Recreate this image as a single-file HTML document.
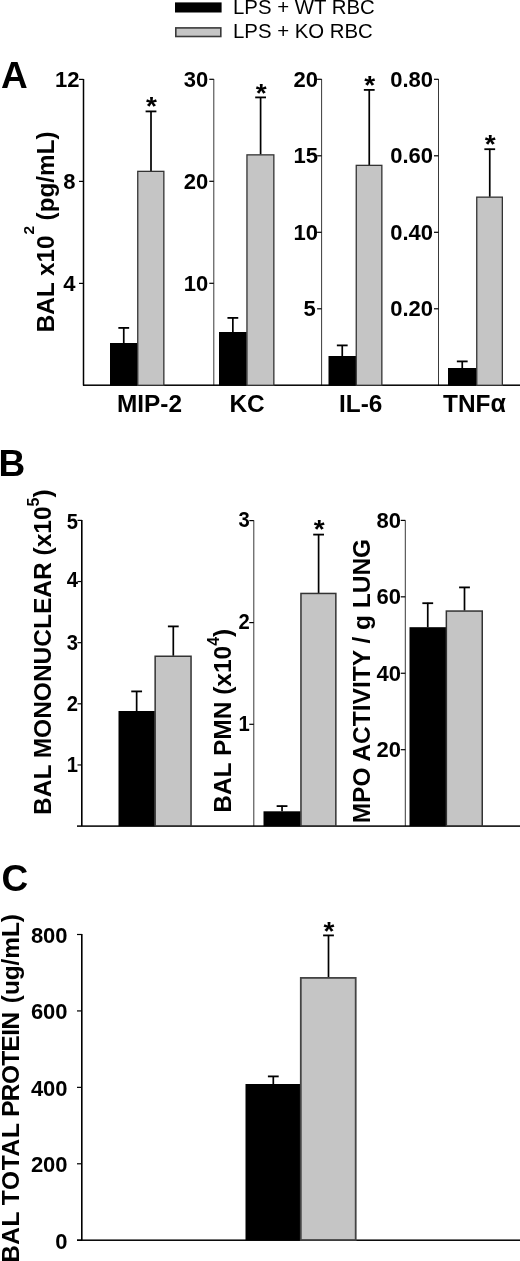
<!DOCTYPE html>
<html><head><meta charset="utf-8"><title>Figure</title>
<style>
html,body{margin:0;padding:0;background:#fff}
svg{display:block}
.r{font-family:"Liberation Sans",Arial,sans-serif;fill:#000}
.b{font-family:"Liberation Sans",Arial,sans-serif;font-weight:bold;fill:#000}
</style></head><body>
<svg width="520" height="1261" viewBox="0 0 520 1261">
<rect width="520" height="1261" fill="#fff"/>
<rect x="175" y="2.4" width="46.6" height="10.1" fill="#000"/>
<rect x="175.8" y="27.9" width="45" height="8.6" fill="#c5c5c5" stroke="#3a3a3a" stroke-width="1.6"/>
<text transform="translate(233,14.2) scale(1.03,1)" font-size="19.8" text-anchor="start" class="r">LPS + WT RBC</text>
<text transform="translate(233,37.9) scale(1.03,1)" font-size="19.8" text-anchor="start" class="r">LPS + KO RBC</text>
<text transform="translate(1,87.5) scale(1.0,1)" font-size="37" text-anchor="start" class="b">A</text>
<rect x="82.75" y="79" width="1.5" height="306.5" fill="#000"/>
<rect x="79.0" y="78.80" width="4.5" height="1.2" fill="#000"/>
<text transform="translate(79.5,86.7) scale(1.0,1)" font-size="22" text-anchor="end" class="b">12</text>
<rect x="79.0" y="180.80" width="4.5" height="1.2" fill="#000"/>
<text transform="translate(75.5,188.7) scale(1.0,1)" font-size="22" text-anchor="end" class="b">8</text>
<rect x="79.0" y="282.80" width="4.5" height="1.2" fill="#000"/>
<text transform="translate(75.5,290.7) scale(1.0,1)" font-size="22" text-anchor="end" class="b">4</text>
<rect x="213.30" y="79" width="1" height="306.5" fill="#3a3a3a"/>
<rect x="209.3" y="78.70" width="4.5" height="1.2" fill="#000"/>
<text transform="translate(208.3,86.6) scale(1.0,1)" font-size="22" text-anchor="end" class="b">30</text>
<rect x="209.3" y="180.70" width="4.5" height="1.2" fill="#000"/>
<text transform="translate(208.3,188.6) scale(1.0,1)" font-size="22" text-anchor="end" class="b">20</text>
<rect x="209.3" y="282.70" width="4.5" height="1.2" fill="#000"/>
<text transform="translate(208.3,290.6) scale(1.0,1)" font-size="22" text-anchor="end" class="b">10</text>
<rect x="321.10" y="79" width="1" height="306.5" fill="#3a3a3a"/>
<rect x="317.1" y="78.70" width="4.5" height="1.2" fill="#000"/>
<text transform="translate(317.9,86.6) scale(1.0,1)" font-size="22" text-anchor="end" class="b">20</text>
<rect x="317.1" y="155.20" width="4.5" height="1.2" fill="#000"/>
<text transform="translate(317.9,163.1) scale(1.0,1)" font-size="22" text-anchor="end" class="b">15</text>
<rect x="317.1" y="231.70" width="4.5" height="1.2" fill="#000"/>
<text transform="translate(317.9,239.6) scale(1.0,1)" font-size="22" text-anchor="end" class="b">10</text>
<rect x="317.1" y="308.20" width="4.5" height="1.2" fill="#000"/>
<text transform="translate(315.7,316.1) scale(1.0,1)" font-size="22" text-anchor="end" class="b">5</text>
<rect x="438.00" y="79" width="1" height="306.5" fill="#3a3a3a"/>
<rect x="434.0" y="78.70" width="4.5" height="1.2" fill="#000"/>
<text transform="translate(433.0,86.6) scale(1.0,1)" font-size="22" text-anchor="end" class="b">0.80</text>
<rect x="434.0" y="155.20" width="4.5" height="1.2" fill="#000"/>
<text transform="translate(433.0,163.1) scale(1.0,1)" font-size="22" text-anchor="end" class="b">0.60</text>
<rect x="434.0" y="231.70" width="4.5" height="1.2" fill="#000"/>
<text transform="translate(433.0,239.6) scale(1.0,1)" font-size="22" text-anchor="end" class="b">0.40</text>
<rect x="434.0" y="308.20" width="4.5" height="1.2" fill="#000"/>
<text transform="translate(433.0,316.1) scale(1.0,1)" font-size="22" text-anchor="end" class="b">0.20</text>
<rect x="83" y="384.45" width="437" height="1.5" fill="#000"/>
<rect x="122.90" y="327.5" width="1.7" height="15.5" fill="#000"/>
<rect x="118.35" y="327.00" width="10.8" height="1.8" fill="#000"/>
<rect x="150.15" y="111" width="1.7" height="60" fill="#000"/>
<rect x="145.6" y="110.50" width="10.8" height="1.8" fill="#000"/>
<rect x="110" y="343" width="27.5" height="42.5" fill="#000"/>
<rect x="137.75" y="171.35" width="26.10" height="213.95" fill="#c5c5c5" stroke="#333" stroke-width="1.3"/>
<text transform="translate(151.5,115.0) scale(1.06,1)" font-size="26.5" text-anchor="middle" class="b">*</text>
<rect x="232.00" y="317.5" width="1.7" height="14.5" fill="#000"/>
<rect x="227.45" y="317.00" width="10.8" height="1.8" fill="#000"/>
<rect x="259.75" y="97" width="1.7" height="57.5" fill="#000"/>
<rect x="255.2" y="96.50" width="10.8" height="1.8" fill="#000"/>
<rect x="219" y="332" width="27.7" height="53.5" fill="#000"/>
<rect x="246.95" y="154.85" width="26.90" height="230.45" fill="#c5c5c5" stroke="#333" stroke-width="1.3"/>
<text transform="translate(261.1,102.3) scale(1.06,1)" font-size="26.5" text-anchor="middle" class="b">*</text>
<rect x="341.40" y="345" width="1.7" height="11" fill="#000"/>
<rect x="336.85" y="344.50" width="10.8" height="1.8" fill="#000"/>
<rect x="368.40" y="89.5" width="1.7" height="75.5" fill="#000"/>
<rect x="363.85" y="89.00" width="10.8" height="1.8" fill="#000"/>
<rect x="328.5" y="356" width="27.5" height="29.5" fill="#000"/>
<rect x="356.25" y="165.35" width="25.60" height="219.95" fill="#c5c5c5" stroke="#333" stroke-width="1.3"/>
<text transform="translate(369.75,93.8) scale(1.06,1)" font-size="26.5" text-anchor="middle" class="b">*</text>
<rect x="461.40" y="361" width="1.7" height="7" fill="#000"/>
<rect x="456.85" y="360.50" width="10.8" height="1.8" fill="#000"/>
<rect x="488.90" y="148.8" width="1.7" height="48.0" fill="#000"/>
<rect x="484.35" y="148.30" width="10.8" height="1.8" fill="#000"/>
<rect x="448" y="368" width="28.5" height="17.5" fill="#000"/>
<rect x="476.75" y="197.15" width="25.60" height="188.15" fill="#c5c5c5" stroke="#333" stroke-width="1.3"/>
<text transform="translate(490.25,152.8) scale(1.06,1)" font-size="26.5" text-anchor="middle" class="b">*</text>
<text transform="translate(117,412) scale(1.0,1)" font-size="24.4" text-anchor="start" class="b">MIP-2</text>
<text transform="translate(229.5,412) scale(1.0,1)" font-size="24.4" text-anchor="start" class="b">KC</text>
<text transform="translate(339,412) scale(1.0,1)" font-size="24.4" text-anchor="start" class="b">IL-6</text>
<text transform="translate(443,412) scale(1.0,1)" font-size="24.4" text-anchor="start" class="b">TNF<tspan class="r" font-size="25">α</tspan></text>
<text transform="translate(54.3,332.2) scale(1.0,1) rotate(-90)" font-size="24.3" class="b">BAL x10<tspan dx="1" dy="-20" font-size="15.5">2</tspan><tspan dy="20" dx="-1.4"> (pg/mL)</tspan></text>
<text transform="translate(-1.5,476.3) scale(1.0,1)" font-size="37" text-anchor="start" class="b">B</text>
<rect x="81.00" y="520" width="1.6" height="306.1" fill="#000"/>
<rect x="77.5" y="519.80" width="4.5" height="1.2" fill="#000"/>
<text transform="translate(78.0,528.7) scale(0.92,1)" font-size="22" text-anchor="end" class="b">5</text>
<rect x="77.5" y="580.94" width="4.5" height="1.2" fill="#000"/>
<text transform="translate(78.0,587.34) scale(0.92,1)" font-size="22" text-anchor="end" class="b">4</text>
<rect x="77.5" y="642.08" width="4.5" height="1.2" fill="#000"/>
<text transform="translate(78.0,649.78) scale(0.92,1)" font-size="22" text-anchor="end" class="b">3</text>
<rect x="77.5" y="703.22" width="4.5" height="1.2" fill="#000"/>
<text transform="translate(78.0,710.82) scale(0.92,1)" font-size="22" text-anchor="end" class="b">2</text>
<rect x="77.5" y="764.36" width="4.5" height="1.2" fill="#000"/>
<text transform="translate(78.0,771.76) scale(0.92,1)" font-size="22" text-anchor="end" class="b">1</text>
<rect x="253.30" y="520.3" width="1" height="305.8" fill="#3a3a3a"/>
<rect x="249.3" y="520.00" width="4.5" height="1.2" fill="#000"/>
<text transform="translate(249.8,527.1) scale(0.92,1)" font-size="22" text-anchor="end" class="b">3</text>
<rect x="249.3" y="622.00" width="4.5" height="1.2" fill="#000"/>
<text transform="translate(249.8,629.1) scale(0.92,1)" font-size="22" text-anchor="end" class="b">2</text>
<rect x="249.3" y="723.70" width="4.5" height="1.2" fill="#000"/>
<text transform="translate(249.8,730.8) scale(0.92,1)" font-size="22" text-anchor="end" class="b">1</text>
<rect x="404.80" y="520.3" width="1" height="305.8" fill="#3a3a3a"/>
<rect x="400.8" y="519.80" width="4.5" height="1.2" fill="#000"/>
<text transform="translate(400.9,527.7) scale(1.0,1)" font-size="22" text-anchor="end" class="b">80</text>
<rect x="400.8" y="596.23" width="4.5" height="1.2" fill="#000"/>
<text transform="translate(400.9,604.13) scale(1.0,1)" font-size="22" text-anchor="end" class="b">60</text>
<rect x="400.8" y="672.66" width="4.5" height="1.2" fill="#000"/>
<text transform="translate(400.9,680.56) scale(1.0,1)" font-size="22" text-anchor="end" class="b">40</text>
<rect x="400.8" y="749.09" width="4.5" height="1.2" fill="#000"/>
<text transform="translate(400.9,756.99) scale(1.0,1)" font-size="22" text-anchor="end" class="b">20</text>
<rect x="77" y="825.35" width="443" height="1.5" fill="#000"/>
<rect x="135.80" y="691" width="1.7" height="20" fill="#000"/>
<rect x="131.25" y="690.50" width="10.8" height="1.8" fill="#000"/>
<rect x="172.45" y="626" width="1.7" height="29.8" fill="#000"/>
<rect x="167.9" y="625.50" width="10.8" height="1.8" fill="#000"/>
<rect x="118.5" y="711" width="36.3" height="115.1" fill="#000"/>
<rect x="155.15" y="656.25" width="35.90" height="169.65" fill="#c5c5c5" stroke="#333" stroke-width="1.5"/>
<rect x="281.20" y="805.7" width="1.7" height="5.6" fill="#000"/>
<rect x="276.65" y="805.20" width="10.8" height="1.8" fill="#000"/>
<rect x="317.75" y="534.2" width="1.7" height="58.8" fill="#000"/>
<rect x="313.2" y="533.70" width="10.8" height="1.8" fill="#000"/>
<rect x="263.5" y="811.3" width="37.1" height="14.8" fill="#000"/>
<rect x="300.95" y="593.45" width="34.90" height="232.45" fill="#c5c5c5" stroke="#333" stroke-width="1.5"/>
<text transform="translate(319.1,538.1) scale(1.06,1)" font-size="26.5" text-anchor="middle" class="b">*</text>
<rect x="426.90" y="602.8" width="1.7" height="24.4" fill="#000"/>
<rect x="422.35" y="602.30" width="10.8" height="1.8" fill="#000"/>
<rect x="463.65" y="587" width="1.7" height="23.6" fill="#000"/>
<rect x="459.1" y="586.50" width="10.8" height="1.8" fill="#000"/>
<rect x="409.5" y="627.2" width="36.5" height="198.9" fill="#000"/>
<rect x="446.35" y="611.05" width="35.90" height="214.85" fill="#c5c5c5" stroke="#333" stroke-width="1.5"/>
<text transform="translate(51,815) scale(1.0,1) rotate(-90)" font-size="24.5" class="b">BAL MONONUCLEAR (x10<tspan dy="-12" font-size="16">5</tspan><tspan dy="12">)</tspan></text>
<text transform="translate(230.5,812.8) scale(1.0,1) rotate(-90)" font-size="24.5" class="b">BAL PMN (x10<tspan dy="-12" font-size="16">4</tspan><tspan dy="12">)</tspan></text>
<text transform="translate(370.2,823.3) scale(1.0,1) rotate(-90)" font-size="24.5" class="b">MPO ACTIVITY / g LUNG</text>
<text transform="translate(1.5,891) scale(1.0,1)" font-size="37" text-anchor="start" class="b">C</text>
<rect x="81.00" y="934" width="1.6" height="306.2" fill="#000"/>
<rect x="77" y="933.90" width="5" height="1.2" fill="#000"/>
<text transform="translate(67.6,942.9) scale(1.0,1)" font-size="22" text-anchor="end" class="b">800</text>
<rect x="77" y="1010.33" width="5" height="1.2" fill="#000"/>
<text transform="translate(67.6,1019.33) scale(1.0,1)" font-size="22" text-anchor="end" class="b">600</text>
<rect x="77" y="1086.76" width="5" height="1.2" fill="#000"/>
<text transform="translate(67.6,1095.76) scale(1.0,1)" font-size="22" text-anchor="end" class="b">400</text>
<rect x="77" y="1163.19" width="5" height="1.2" fill="#000"/>
<text transform="translate(67.6,1172.19) scale(1.0,1)" font-size="22" text-anchor="end" class="b">200</text>
<rect x="77" y="1239.62" width="5" height="1.2" fill="#000"/>
<text transform="translate(67.6,1248.62) scale(1.0,1)" font-size="22" text-anchor="end" class="b">0</text>
<rect x="77" y="1239.45" width="443" height="1.5" fill="#000"/>
<rect x="272.45" y="1076" width="1.7" height="8" fill="#000"/>
<rect x="267.9" y="1075.50" width="10.8" height="1.8" fill="#000"/>
<rect x="327.65" y="935" width="1.7" height="42.5" fill="#000"/>
<rect x="323.1" y="934.50" width="10.8" height="1.8" fill="#000"/>
<rect x="245.5" y="1084" width="54.8" height="156.2" fill="#000"/>
<rect x="300.80" y="977.90" width="54.90" height="262.10" fill="#c5c5c5" stroke="#444" stroke-width="1.8"/>
<text transform="translate(329.0,940.3) scale(1.06,1)" font-size="26.5" text-anchor="middle" class="b">*</text>
<text transform="translate(18.9,1262.7) rotate(-90)" font-size="24.4" textLength="51.0" lengthAdjust="spacing" class="b">BAL</text>
<text transform="translate(18.9,1205.2) rotate(-90)" font-size="24.4" textLength="82.0" lengthAdjust="spacing" class="b">TOTAL</text>
<text transform="translate(18.9,1116.8) rotate(-90)" font-size="24.4" textLength="104.9" lengthAdjust="spacing" class="b">PROTEIN</text>
<text transform="translate(18.9,1003.2) rotate(-90)" font-size="24.4" textLength="89.2" lengthAdjust="spacing" class="b">(ug/mL)</text>
</svg>
</body></html>
